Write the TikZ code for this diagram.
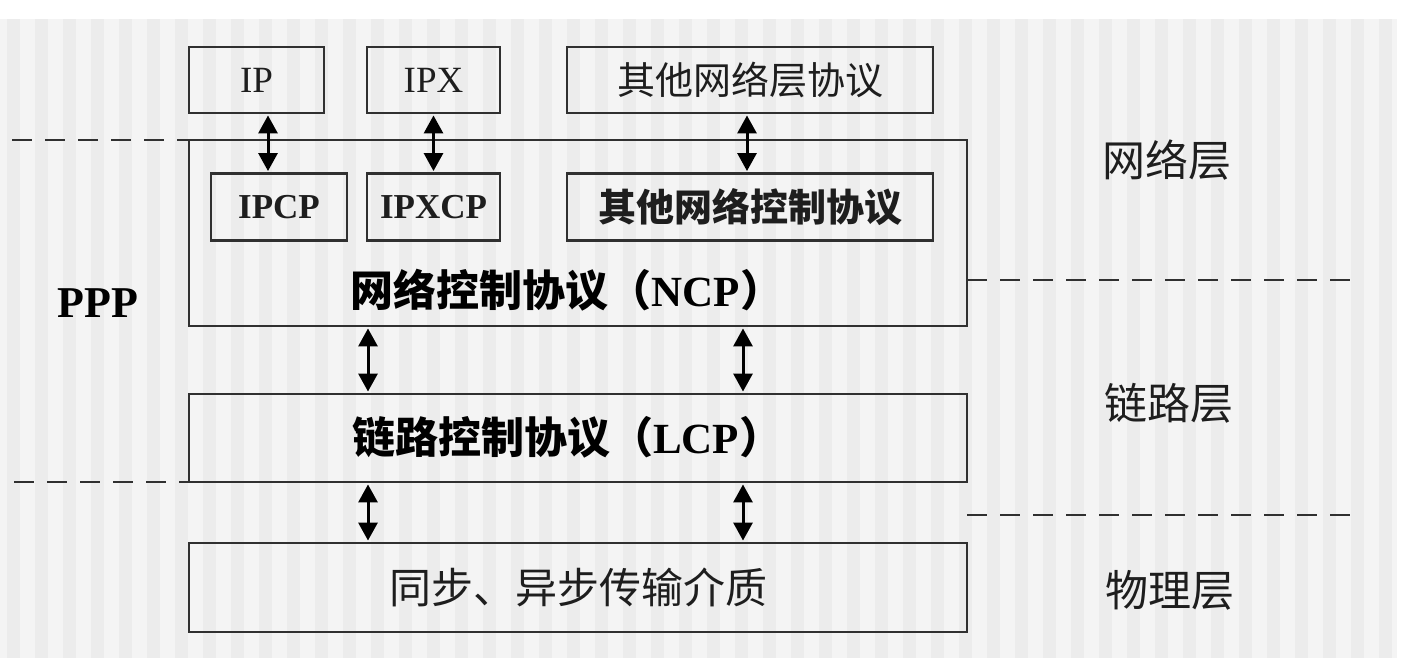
\documentclass[tikz,border=0pt]{standalone}
\usepackage{fontspec}
\setmainfont{Liberation Serif}
\newfontfamily\cjk{Noto Sans CJK SC}
\usetikzlibrary{arrows.meta}
\definecolor{linec}{HTML}{303030}
\definecolor{bgA}{HTML}{F4F4F4}
\definecolor{bgB}{HTML}{ECECEC}
\definecolor{txt}{HTML}{1E1E1E}
\tikzset{
  box/.style={draw=linec, line width=2.9pt, rectangle, inner sep=0pt, text=txt},
  dashline/.style={draw=linec, line width=2.9pt, dash pattern=on 20pt off 13pt},
  biarrow/.style={draw=black, line width=3pt, {Triangle[length=18pt,width=19pt]}-{Triangle[length=18pt,width=19pt]}, shorten <=1pt, shorten >=1pt},
  lat/.style={font=\fontsize{37}{40}\selectfont},
  latb/.style={font=\fontsize{35}{40}\selectfont\bfseries},
  side/.style={text=txt, font=\cjk\fontsize{43}{46}\selectfont}
}
\begin{document}
\begin{tikzpicture}[x=1pt,y=-1pt]
\useasboundingbox (0,0) rectangle (1403,668);
\fill[white] (0,0) rectangle (1403,668);
\fill[bgA] (0,19) rectangle (1397,658);
\foreach \i in {0,...,49} {
  \fill[bgB] ({7+28*\i},19) rectangle ({20+28*\i},658);
}
% boxes
\node[box, minimum width=135pt, minimum height=66pt, lat] (IP) at (256.5,80) {IP};
\node[box, minimum width=133pt, minimum height=66pt, lat] (IPX) at (433.5,80) {IPX};
\node[box, minimum width=366pt, minimum height=66pt, font=\cjk\fontsize{38}{40}\selectfont] (oth) at (750,80) {其他网络层协议};
\node[box, minimum width=778pt, minimum height=186pt] (NCP) at (578,233) {};
\node[box, minimum width=136pt, minimum height=67pt, latb] (IPCP) at (279,207) {IPCP};
\node[box, minimum width=133pt, minimum height=67pt, latb] (IPXCP) at (433.5,207) {IPXCP};
\node[box, minimum width=366pt, minimum height=67pt, font=\cjk\fontsize{38}{40}\selectfont\bfseries] (othcp) at (750,207) {其他网络控制协议};
\node[text=black, inner sep=0pt] (ncpl) at (567,290) {\cjk\fontsize{43}{46}\selectfont\bfseries 网络控制协议（\fontspec{Liberation Serif}NCP\cjk）};
\node[box, minimum width=778pt, minimum height=88pt] (LCP) at (578,438) {};
\node[text=black, inner sep=0pt] (lcpl) at (567,437) {\cjk\fontsize{43}{46}\selectfont\bfseries 链路控制协议（\fontspec{Liberation Serif}LCP\cjk）};
\node[box, minimum width=778pt, minimum height=89pt, font=\cjk\fontsize{42}{46}\selectfont] (PHY) at (578,587.5) {同步、异步传输介质};
% side labels
\node[side] (netl) at (1167,160) {网络层};
\node[side] (linkl) at (1169,403) {链路层};
\node[side] (phyl) at (1170,590) {物理层};
\node[text=black, font=\fontsize{44}{46}\selectfont\bfseries] (ppp) at (98,303) {PPP};
% arrows
\draw[biarrow] ([xshift=11.5pt]IP.south) -- ([xshift=11.5pt]IP.south |- IPCP.north);
\draw[biarrow] (IPX.south) -- (IPXCP.north);
\draw[biarrow] ([xshift=-3pt]oth.south) -- ([xshift=-3pt]oth.south |- othcp.north);
\draw[biarrow] ([xshift=-210pt]NCP.south) -- ([xshift=-210pt]NCP.south |- LCP.north);
\draw[biarrow] ([xshift=165pt]NCP.south) -- ([xshift=165pt]NCP.south |- LCP.north);
\draw[biarrow] ([xshift=-210pt]LCP.south) -- ([xshift=-210pt]LCP.south |- PHY.north);
\draw[biarrow] ([xshift=165pt]LCP.south) -- ([xshift=165pt]LCP.south |- PHY.north);
% dashed layer separators
\coordinate (d1a) at (12,140);
\coordinate (d1b) at (204,140);
\coordinate (d2a) at (967,280);
\coordinate (d2b) at (1358,280);
\coordinate (d3a) at (14,482);
\coordinate (d3b) at (206,482);
\coordinate (d4a) at (967,515);
\coordinate (d4b) at (1358,515);
\draw[dashline] (d1a) -- (d1b);
\draw[dashline] (d2a) -- (d2b);
\draw[dashline] (d3a) -- (d3b);
\draw[dashline] (d4a) -- (d4b);
\end{tikzpicture}
\end{document}
